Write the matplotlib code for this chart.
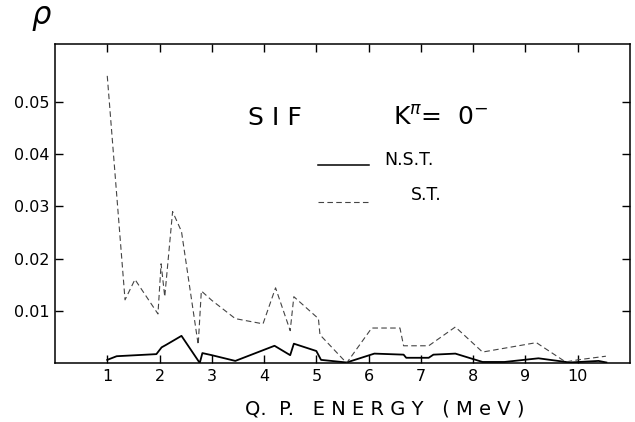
import matplotlib.pyplot as plt

# S.T. (dashed) curve
st_e = [1.0, 1.34, 1.53, 1.97, 2.03, 2.1, 2.25, 2.42, 2.74, 2.8, 3.0, 3.45, 3.98,
        4.22, 4.5, 4.57, 5.04, 5.07, 5.58, 6.06, 6.6, 6.67, 7.15, 7.66, 8.18,
        9.21, 9.77, 10.0, 10.54]
st_rho = [0.055, 0.0121, 0.016, 0.0094, 0.019, 0.0127, 0.029, 0.0252, 0.0035, 0.0138,
          0.012, 0.0085, 0.0075, 0.0144, 0.0062, 0.0127, 0.0085, 0.0054, 0.0, 0.0067,
          0.0067, 0.0033, 0.0033, 0.0069, 0.0021, 0.0039, 0.0002, 0.0006, 0.0013]

# N.S.T. (solid) curve
nst_e = [1.0, 1.18, 1.94, 2.04, 2.13, 2.42, 2.77, 2.82, 3.0, 3.45, 4.2, 4.5, 4.57,
         5.0, 5.09, 5.58, 6.11, 6.67, 6.72, 7.15, 7.24, 7.66, 8.18, 8.6, 9.25,
         9.85, 10.4, 10.55]
nst_rho = [0.0006, 0.0013, 0.0017, 0.003, 0.0035, 0.0052, 0.0, 0.0019, 0.0015, 0.0004,
           0.0033, 0.0015, 0.0037, 0.0023, 0.0006, 0.0001, 0.0018, 0.0016, 0.001,
           0.001, 0.0016, 0.0018, 0.0002, 0.0002, 0.0009, 0.0001, 0.0004, 0.0001]

x_ticks = [1, 2, 3, 4, 5, 6, 7, 8, 9, 10]
y_ticks = [0.01, 0.02, 0.03, 0.04, 0.05]

fig = plt.figure(figsize=(6.35, 4.22), dpi=100)
ax = fig.add_axes([0.0866, 0.1398, 0.9054, 0.7559])

ax.plot(nst_e, nst_rho, color='black', linewidth=1.3)
ax.plot(st_e, st_rho, color='#444444', linewidth=0.8, linestyle=(0, (5, 3)))

ax.set_xlim(0, 11)
ax.set_ylim(0, 0.0611)
ax.set_xticks(x_ticks)
ax.set_yticks(y_ticks)
ax.set_yticklabels([f'{v:.2f}' for v in y_ticks])
ax.tick_params(direction='in', length=6, width=1, top=True, right=True,
               labelsize=11.5, pad=4)
for s in ax.spines.values():
    s.set_linewidth(1.1)

ax.set_xlabel('Q.  P.   E N E R G Y   ( M e V )', fontsize=14)
ax.xaxis.set_label_coords(0.574, -0.115)
fig.text(0.065, 0.955, r'$\rho$', fontsize=22, ha='center', va='center')

ax.text(3.7, 0.0469, 'S I F', fontsize=18, va='center')
ax.text(6.47, 0.0469, r'K$^{\pi}$=  0$^{-}$', fontsize=18, va='center')

# legend by hand
ax.plot([5.04, 6.0], [0.0379, 0.0379], color='black', linewidth=1.1)
ax.text(6.3, 0.0388, 'N.S.T.', fontsize=12.5, va='center')
ax.plot([5.04, 6.0], [0.0308, 0.0308], color='#444444', linewidth=0.8,
        linestyle=(0, (5, 3)))
ax.text(6.8, 0.0321, 'S.T.', fontsize=12.5, va='center')

fig.savefig('out.png', dpi=100)
